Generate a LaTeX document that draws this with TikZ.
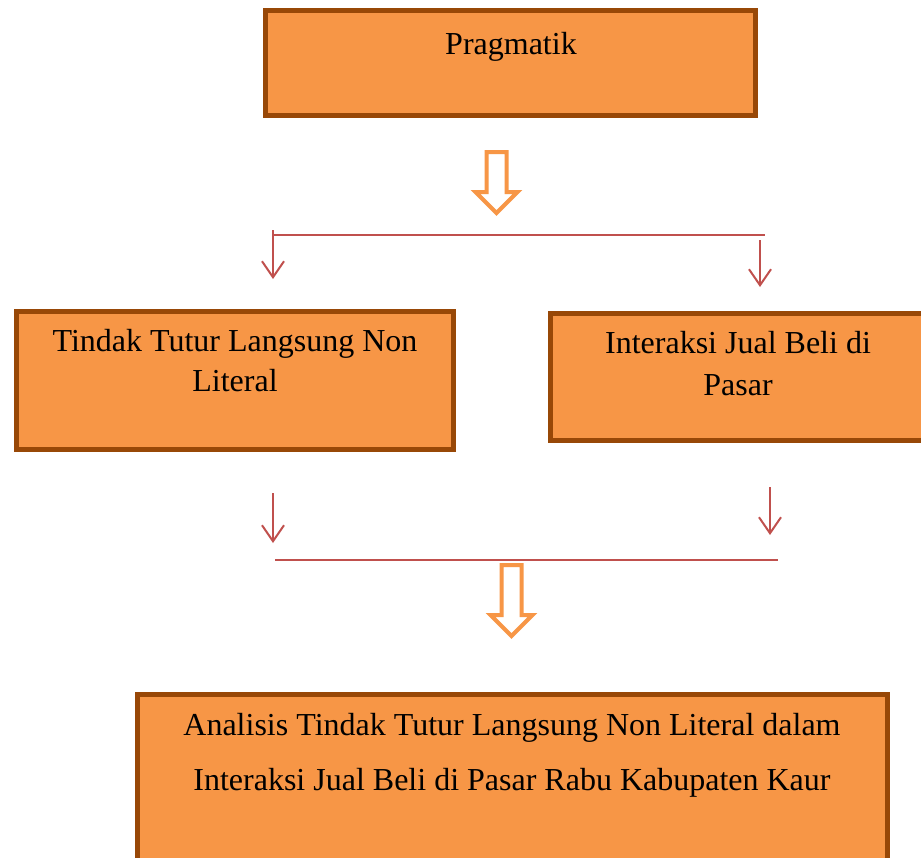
\documentclass[tikz,border=0pt]{standalone}
\usepackage{fontspec}
\setmainfont{Liberation Serif}
\usetikzlibrary{arrows.meta,shapes.arrows,positioning}

\definecolor{boxfill}{HTML}{F79646}
\definecolor{boxline}{HTML}{984807}
\definecolor{arrowred}{HTML}{C0504D}

\tikzset{
  box/.style={rectangle, draw=boxline, fill=boxfill, line width=5pt},
  lbl/.style={font=\fontsize{32}{40}\selectfont, align=center, inner sep=0pt},
  openarrow/.style={single arrow, draw=boxfill, fill=white, line width=4pt,
    single arrow head extend=11pt, inner sep=8pt, outer sep=0pt, rotate=-90, anchor=tail},
  redarrow/.style={draw=arrowred, line width=2pt, -{Straight Barb[length=16pt,width=22pt]}},
  hline/.style={draw=arrowred, line width=2pt},
}

\begin{document}
\begin{tikzpicture}[x=1pt,y=-1pt]
  \useasboundingbox (0,0) rectangle (921,857);

  % boxes
  \node[box, minimum width=490pt, minimum height=105pt] (prag) at (510.5,63) {};
  \node[box, minimum width=437pt, minimum height=138pt] (tutur) at (235,380.5) {};
  \node[box, minimum width=407pt, minimum height=127pt] (jualbeli) at (754,377) {};
  \node[box, minimum width=750pt, minimum height=203pt] (analisis) at (512.5,796) {};

  % texts (base = last line)
  \node[lbl, anchor=base] (pragtext) at (511,54) {Pragmatik};
  \node[lbl, anchor=base] (tuturtext) at (235,391) {Tindak Tutur Langsung Non\\Literal};
  \node[lbl, anchor=base, font=\fontsize{32}{42}\selectfont] (jualtext) at (738,395) {Interaksi Jual Beli di\\Pasar};
  \node[lbl, anchor=base, font=\fontsize{32}{55}\selectfont] (analisistext) at (512,790)
    {Analisis Tindak Tutur Langsung Non Literal dalam\\Interaksi Jual Beli di Pasar Rabu Kabupaten Kaur};

  % big arrows
  \node[openarrow, minimum height=61pt] (down1) at (496.5,152) {};
  \node[openarrow, minimum height=71pt] (down2) at (511.5,565) {};

  % split lines
  \coordinate (topL) at (273,235);
  \coordinate (topR) at (765,235);
  \coordinate (botL) at (275,560);
  \coordinate (botR) at (778,560);
  \draw[hline] (topL) -- (topR);
  \draw[hline] (botL) -- (botR);

  % small arrows
  \coordinate (t1a) at (273,230);
  \coordinate (t1b) at (273,279);
  \coordinate (t2a) at (760,240);
  \coordinate (t2b) at (760,287);
  \coordinate (b1a) at (273,493);
  \coordinate (b1b) at (273,543);
  \coordinate (b2a) at (770,487);
  \coordinate (b2b) at (770,535);
  \draw[redarrow] (t1a) -- (t1b);
  \draw[redarrow] (t2a) -- (t2b);
  \draw[redarrow] (b1a) -- (b1b);
  \draw[redarrow] (b2a) -- (b2b);
\end{tikzpicture}
\end{document}
